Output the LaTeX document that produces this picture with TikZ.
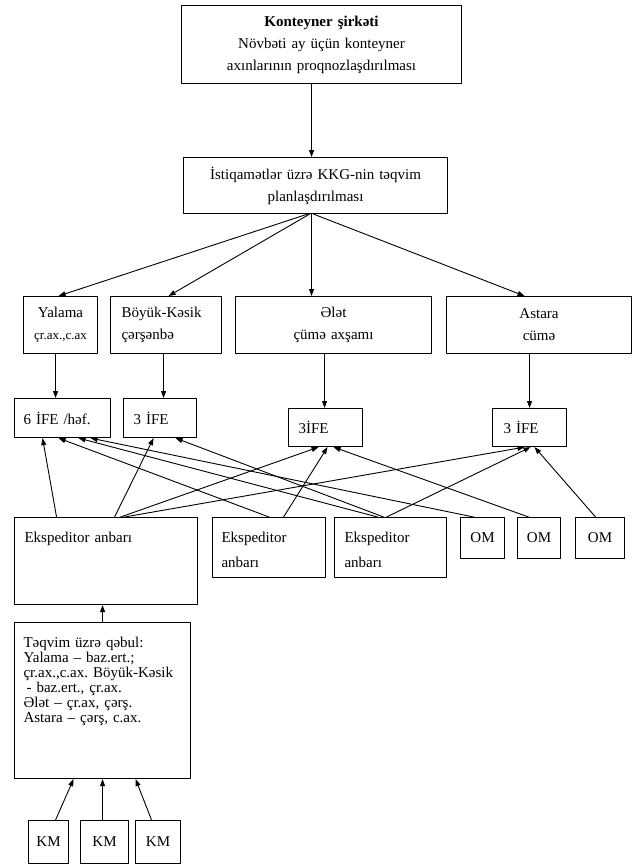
\documentclass[tikz,border=0pt]{standalone}
\usepackage{fontspec}
\setmainfont{Liberation Serif}
\usetikzlibrary{arrows.meta}
\frenchspacing
\begin{document}
\begin{tikzpicture}[line cap=round,line join=round,>={Triangle[length=7pt,width=5pt]},x=1pt,y=-1pt,
  blok/.style={draw,line width=1.1pt,anchor=north west,inner ysep=0pt,font=\fontsize{15}{22}\selectfont},
  arr/.style={->,line width=0.9pt}]
\useasboundingbox (0,0) rectangle (638,864);
\node[blok,align=center,text width=270pt,inner xsep=5pt,minimum height=78pt] (top) at (181,5) {\textbf{Konteyner şirkəti}\\Növbəti ay üçün konteyner\\axınlarının proqnozlaşdırılması};
\node[blok,align=center,text width=254pt,inner xsep=5pt,minimum height=56pt] (plan) at (183,157) {İstiqamətlər üzrə KKG-nin təqvim\\planlaşdırılması};
\node[blok,align=center,text width=68pt,inner xsep=3pt,minimum height=57pt] (yalama) at (23,296) {Yalama\\{\fontsize{13}{22}\selectfont çr.ax.,c.ax}};
\node[blok,align=left,text width=89pt,inner xsep=11pt,minimum height=57pt] (boyuk) at (110,296) {Böyük-Kəsik\\çərşənbə};
\node[blok,align=center,text width=186pt,inner xsep=5pt,minimum height=57pt] (elet) at (235,296) {Ələt\\çümə axşamı};
\node[blok,align=center,text width=175pt,inner xsep=5pt,minimum height=57pt] (astara) at (446,296) {Astara\\cümə};
\node[blok,align=left,text width=78pt,inner xsep=9pt,minimum height=39pt] (ife1) at (14,398) {6 İFE /həf.};
\node[blok,align=left,text width=53pt,inner xsep=10pt,minimum height=39pt] (ife2) at (123,398) {3 İFE};
\node[blok,align=left,text width=54pt,inner xsep=10pt,minimum height=38pt] (ife3) at (288,408) {3İFE};
\node[blok,align=left,text width=52pt,inner xsep=11pt,minimum height=38pt] (ife4) at (492,408) {3 İFE};
\node[blok,align=left,text width=163pt,inner xsep=10pt,text height=25pt,text depth=62pt] (eksp1) at (14,517) {Ekspeditor anbarı};
\node[blok,align=left,text width=95pt,inner xsep=9pt,text height=25pt,text depth=35pt,font=\fontsize{15}{25}\selectfont] (eksp2) at (212,517) {Ekspeditor\\anbarı};
\node[blok,align=left,text width=92pt,inner xsep=10pt,text height=25pt,text depth=35pt,font=\fontsize{15}{25}\selectfont] (eksp3) at (334,517) {Ekspeditor\\anbarı};
\node[blok,align=center,text width=40pt,inner xsep=2pt,minimum height=41pt] (om1) at (460,517) {OM};
\node[blok,align=center,text width=39pt,inner xsep=2pt,minimum height=41pt] (om2) at (517,517) {OM};
\node[blok,align=center,text width=45pt,inner xsep=2pt,minimum height=41pt] (om3) at (575,517) {OM};
\node[blok,align=left,text width=158pt,inner xsep=9pt,text height=25pt,text depth=131pt,font=\fontsize{15}{15}\selectfont] (teqvim) at (14,622) {Təqvim üzrə qəbul:\\Yalama – baz.ert.;\\çr.ax.,c.ax. Böyük-Kəsik\\\hspace*{3pt}- baz.ert., çr.ax.\\Ələt – çr.ax, çərş.\\Astara – çərş, c.ax.};
\node[blok,align=center,text width=36pt,inner xsep=2pt,minimum height=43pt] (km1) at (28,820) {KM};
\node[blok,align=center,text width=44pt,inner xsep=2pt,minimum height=43pt] (km2) at (80,820) {KM};
\node[blok,align=center,text width=41pt,inner xsep=2pt,minimum height=43pt] (km3) at (135,820) {KM};
\draw[arr] ([xshift=-10]top.south) -- ([xshift=-4]plan.north);
\draw[arr] ([xshift=-8]plan.south) -- ([xshift=-2]yalama.north);
\draw[arr] ([xshift=-6]plan.south) -- ([xshift=2.5]boyuk.north);
\draw[arr] ([xshift=-4]plan.south) -- ([xshift=-22]elet.north);
\draw[arr] ([xshift=-2]plan.south) -- ([xshift=-14.5]astara.north);
\draw[arr] ([xshift=-5]yalama.south) -- ([xshift=-7]ife1.north);
\draw[arr] ([xshift=-2.5]boyuk.south) -- ([xshift=3.5]ife2.north);
\draw[arr] ([xshift=-9]elet.south) -- ([xshift=-1]ife3.north);
\draw[arr] ([xshift=-9.5]astara.south) -- (ife4.north);
\draw[arr] ([xshift=-49.5]eksp1.north) -- ([xshift=-20]ife1.south);
\draw[arr] ([xshift=8.5]eksp1.north) -- ([xshift=-6.5]ife2.south);
\draw[arr] ([xshift=14.5]eksp1.north) -- ([xshift=-7]ife3.south);
\draw[arr] ([xshift=18.5]eksp1.north) -- ([xshift=-5]ife4.south);
\draw[arr] (eksp2.north) -- ([xshift=-4]ife1.south);
\draw[arr] ([xshift=14.5]eksp2.north) -- ([xshift=2]ife3.south);
\draw[arr] ([xshift=-13]eksp3.north) -- ([xshift=16]ife1.south);
\draw[arr] ([xshift=-7]eksp3.north) -- ([xshift=15.5]ife2.south);
\draw[arr] ([xshift=-4]eksp3.north) -- ([xshift=1]ife4.south);
\draw[arr] ([xshift=-9]om1.north) -- ([xshift=28]ife1.south);
\draw[arr] ([xshift=-10.5]om2.north) -- ([xshift=8]ife3.south);
\draw[arr] ([xshift=-4.5]om3.north) -- ([xshift=5]ife4.south);
\draw[arr] (teqvim.north) -- ([xshift=-3.5]eksp1.south);
\draw[arr] ([xshift=7]km1.north) -- ([xshift=-29]teqvim.south);
\draw[arr] ([xshift=-2]km2.north) -- (teqvim.south);
\draw[arr] ([xshift=-6.5]km3.north) -- ([xshift=33]teqvim.south);
\end{tikzpicture}
\end{document}
